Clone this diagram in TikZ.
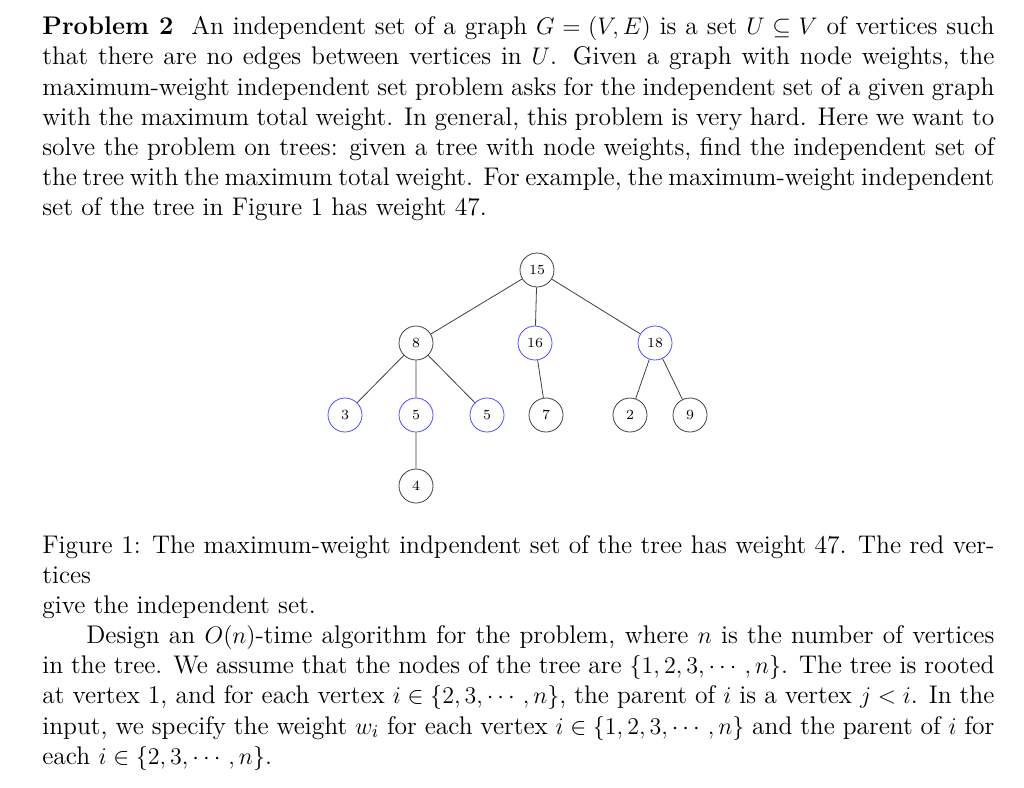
\documentclass[tikz,border=0pt]{standalone}
\usepackage{amsmath,amssymb}
\begin{document}
\begin{tikzpicture}[x=0.5pt,y=-0.5pt,
  vert/.style={circle,draw=black!75,minimum size=17pt,inner sep=0pt,font=\scriptsize},
  sel/.style={vert,draw=blue!70},
  edge/.style={draw=black!75,line width=0.4pt},
  para/.style={anchor=north west,text width=476pt,align=justify,inner sep=0pt,font=\fontsize{12.75}{15.1}\selectfont}]
\useasboundingbox (0,0) rectangle (1024,788);
\node[para] (p1) at (42,16) {\textbf{Problem 2}\ \ An independent set of a graph $G=(V,E)$ is a set $U\subseteq V$ of vertices such that there are no edges between vertices in $U$. Given a graph with node weights, the maximum-weight independent set problem asks for the independent set of a given graph with the maximum total weight. In general, this problem is very hard. Here we want to\linebreak solve the problem on trees: given a tree with node weights, find the independent set of\linebreak the tree with the maximum total weight. For example, the maximum-weight independent\linebreak set of the tree in Figure 1 has weight 47.};
\node[vert] (a) at (537,270) {15};
\node[vert] (b) at (416,343) {8};
\node[sel] (c) at (535,343) {16};
\node[sel] (d) at (655,343) {18};
\node[sel] (e) at (345,415) {3};
\node[sel] (f) at (416,415) {5};
\node[sel] (g) at (487,415) {5};
\node[vert] (h) at (546,415) {7};
\node[vert] (i) at (630,415) {2};
\node[vert] (j) at (690,415) {9};
\node[vert] (k) at (416,486) {4};
\draw[edge] (a)--(b) (a)--(c) (a)--(d) (b)--(e) (b)--(f) (b)--(g) (c)--(h) (d)--(i) (d)--(j) (f)--(k);
\node[para] (cap) at (42,535) {Figure 1: The maximum-weight indpendent set of the tree has weight 47. The red vertices\linebreak give the independent set.};
\node[para] (p2) at (42,625) {\hspace*{22pt}Design an $O(n)$-time algorithm for the problem, where $n$ is the number of vertices in the tree. We assume that the nodes of the tree are $\{1,2,3,\cdots,n\}$. The tree is rooted at vertex 1, and for each vertex $i\in\{2,3,\cdots,n\}$, the parent of $i$ is a vertex $j<i$. In the input, we specify the weight $w_i$ for each vertex $i\in\{1,2,3,\cdots,n\}$ and the parent of $i$ for each $i\in\{2,3,\cdots,n\}$.};
\end{tikzpicture}
\end{document}
